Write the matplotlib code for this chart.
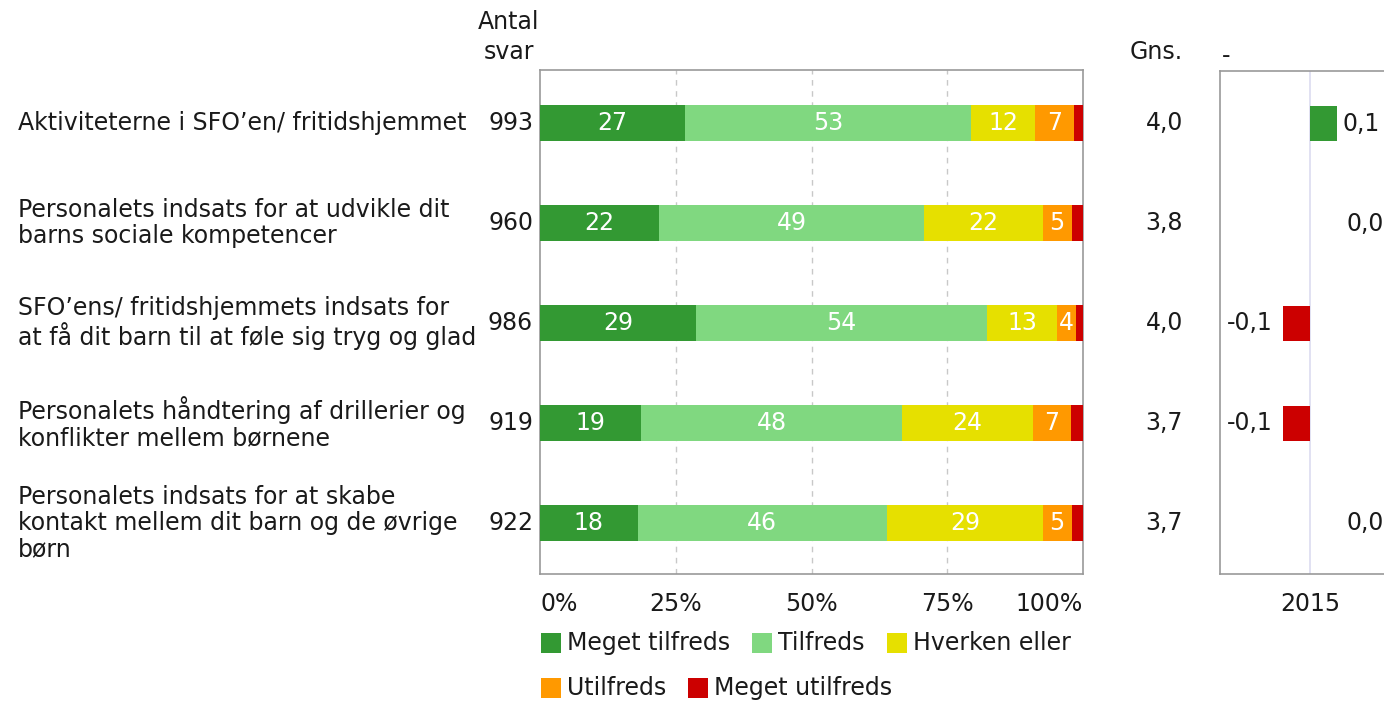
import matplotlib
matplotlib.use('Agg')
import matplotlib.pyplot as plt
from matplotlib.patches import Rectangle
from matplotlib.transforms import blended_transform_factory

# data
questions = [
    "Aktiviteterne i SFO\u2019en/ fritidshjemmet",
    "Personalets indsats for at udvikle dit\nbarns sociale kompetencer",
    "SFO\u2019ens/ fritidshjemmets indsats for\nat f\u00e5 dit barn til at f\u00f8le sig tryg og glad",
    "Personalets h\u00e5ndtering af drillerier og\nkonflikter mellem b\u00f8rnene",
    "Personalets indsats for at skabe\nkontakt mellem dit barn og de \u00f8vrige\nb\u00f8rn",
]
antal_svar = [993, 960, 986, 919, 922]
gns = ["4,0", "3,8", "4,0", "3,7", "3,7"]
categories = ["Meget tilfreds", "Tilfreds", "Hverken eller", "Utilfreds", "Meget utilfreds"]
meget_tilfreds = [26.7, 21.9, 28.7, 18.6, 18.0]
tilfreds = [52.7, 48.8, 53.6, 48.1, 45.9]
hverken = [11.8, 21.9, 12.9, 24.1, 28.7]
utilfreds = [7.2, 5.3, 3.6, 7.0, 5.3]
meget_utilfreds = [1.6, 2.1, 1.2, 2.2, 2.1]
change_2015 = [0.1, 0.0, -0.1, -0.1, 0.0]

colors = ['#339933', '#80d880', '#e6e000', '#ff9900', '#cc0000']
txt = '#1a1a1a'
fs = 17

W, H = 1384, 701
fig = plt.figure(figsize=(W / 100, H / 100), dpi=100)

def fx(px):
    return px / W

def fy(py):
    return 1 - py / H

ylims = (4.51, -0.53)

# main stacked bars
ax = fig.add_axes([fx(540), fy(574), fx(1083) - fx(540), fy(70) - fy(574)])
series = [meget_tilfreds, tilfreds, hverken, utilfreds, meget_utilfreds]
rows = list(range(len(questions)))
left = [0.0] * len(rows)
for vals, c in zip(series, colors):
    bars = ax.barh(rows, vals, left=left, height=0.36, color=c, zorder=3)
    for b, v in zip(bars, vals):
        if v >= 3:
            ax.text(b.get_x() + b.get_width() / 2, b.get_y() + b.get_height() / 2,
                    str(round(v)), color='white', ha='center', va='center', fontsize=fs, zorder=4)
    left = [l + v for l, v in zip(left, vals)]

ax.set_xlim(0, 100)
ax.set_ylim(*ylims)
ax.set_yticks([])
ax.set_xticks([0, 25, 50, 75, 100])
ax.set_xticklabels(['0%', '25%', '50%', '75%', '100%'], fontsize=fs, color=txt)
ax.tick_params(axis='x', length=0, pad=13)
tl = ax.get_xticklabels()
tl[0].set_ha('left')
tl[-1].set_ha('right')
for x in [25, 50, 75]:
    ax.axvline(x, color='#c8c8c8', linestyle=(0, (4, 4)), linewidth=1, zorder=1)
for s in ax.spines.values():
    s.set_color('#999999')
    s.set_linewidth(1.2)

# left labels, counts, averages
tr = blended_transform_factory(fig.transFigure, ax.transData)
for i, q in enumerate(questions):
    fig.text(fx(18), i, q, transform=tr, ha='left', va='center', fontsize=fs, color=txt,
             linespacing=1.12)
    fig.text(fx(533), i, str(antal_svar[i]), transform=tr, ha='right', va='center',
             fontsize=fs, color=txt)
    fig.text(fx(1183), i, gns[i], transform=tr, ha='right', va='center',
             fontsize=fs, color=txt)

fig.text(fx(509), fy(22), "Antal", ha='center', va='center', fontsize=fs, color=txt)
fig.text(fx(509), fy(52), "svar", ha='center', va='center', fontsize=fs, color=txt)
fig.text(fx(1183), fy(52), "Gns.", ha='right', va='center', fontsize=fs, color=txt)
fig.text(fx(1222), fy(56), "-", ha='left', va='center', fontsize=fs, color=txt)

# change panel
ax2 = fig.add_axes([fx(1220), fy(574), 180 / W, fy(71) - fy(574)])
ch_colors = [colors[0] if v > 0 else colors[4] for v in change_2015]
ax2.barh(rows, change_2015, height=0.35, color=ch_colors, zorder=3)
ax2.set_xlim(-1 / 3, 1 / 3)
ax2.set_ylim(*ylims)
ax2.axvline(0, color='#dcdcf0', linewidth=1.2, zorder=1)
ax2.set_yticks([])
ax2.set_xticks([0])
ax2.set_xticklabels(['2015'], fontsize=fs, color=txt)
ax2.tick_params(axis='x', length=0, pad=13)
for s in ax2.spines.values():
    s.set_color('#999999')
    s.set_linewidth(1.2)
for i, v in enumerate(change_2015):
    lab = f"{v:.1f}".replace('.', ',')
    if v > 0:
        ax2.annotate(lab, (v, i), xytext=(6, 0), textcoords='offset pixels',
                     ha='left', va='center', fontsize=fs, color=txt)
    elif v < 0:
        ax2.annotate(lab, (v, i), xytext=(-10, 0), textcoords='offset pixels',
                     ha='right', va='center', fontsize=fs, color=txt)
    else:
        ax2.annotate(lab, (v, i), xytext=(37, 0), textcoords='offset pixels',
                     ha='left', va='center', fontsize=fs, color=txt)

# legend (flow layout)
fig.canvas.draw()
r = fig.canvas.get_renderer()
x0 = 541
x, y = x0, 643
for k, (name, c) in enumerate(zip(categories, colors)):
    if k == 3:
        x, y = x0, 688
    fig.add_artist(Rectangle((fx(x), fy(y + 10)), 20 / W, 20 / H, transform=fig.transFigure,
                             facecolor=c, edgecolor='none'))
    t = fig.text(fx(x + 26), fy(y), name, ha='left', va='center', fontsize=fs, color=txt)
    w = t.get_window_extent(renderer=r).width
    x = x + 26 + w + 22

fig.savefig('out.png', dpi=100)
